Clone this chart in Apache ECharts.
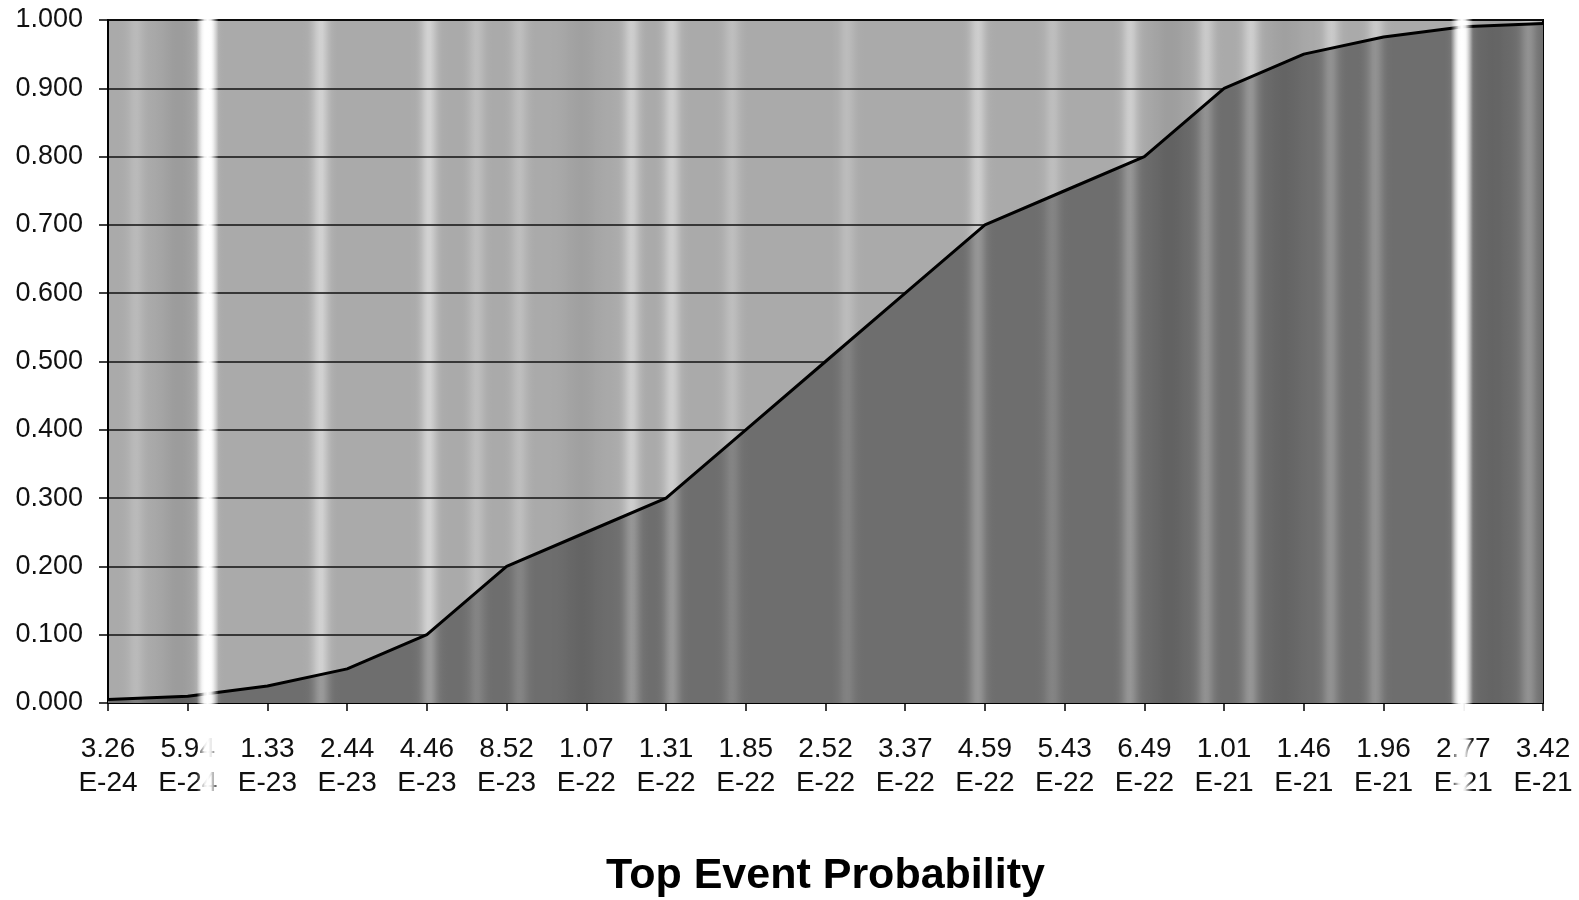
<!DOCTYPE html>
<html>
<head>
<meta charset="utf-8">
<script src="https://cdn.jsdelivr.net/npm/echarts@6/dist/echarts.min.js"></script>
<style>
html,body{margin:0;padding:0;background:#fff;}
#chart{width:1579px;height:900px;}
</style>
</head>
<body>
<div id="chart"></div>
<script>
// ---- data ----
var categories = ['3.26E-24','5.94E-24','1.33E-23','2.44E-23','4.46E-23','8.52E-23','1.07E-22','1.31E-22','1.85E-22','2.52E-22','3.37E-22','4.59E-22','5.43E-22','6.49E-22','1.01E-21','1.46E-21','1.96E-21','2.77E-21','3.42E-21'];
var cumulative = [0.005,0.010,0.025,0.050,0.100,0.200,0.250,0.300,0.400,0.500,0.600,0.700,0.750,0.800,0.900,0.950,0.975,0.990,0.995];
var yTicks = [0,0.1,0.2,0.3,0.4,0.5,0.6,0.7,0.8,0.9,1.0];

// ---- scan-like texture (decoration only) ----
var GRID_L = 108, GRID_R = 36, GRID_W = 1579 - GRID_L - GRID_R;
var whiteStripes = [0.0695, 0.9435];
var lightStripes = [[0.1486,1],[0.224,1],[0.257,0.5],[0.287,0.5],[0.365,0.9],[0.393,0.9],[0.435,0.5],[0.515,0.45],[0.606,0.9],[0.658,0.5],[0.712,0.9],[0.765,0.8],[0.796,0.9],[0.852,0.8],[0.883,0.8],[0.99,0.8],[0.02,0.4]];
var darkBands = [[0.05,0.6],[0.33,0.4],[0.74,0.5],[0.82,0.4],[0.965,0.4]];
function texture(base, wAmp, lAmp, dAmp){
  var stops = [];
  var n = 480;
  for (var i = 0; i <= n; i++){
    var f = i / n, px = f * GRID_W, v = base;
    whiteStripes.forEach(function(c){ var d = (px - c*GRID_W)/7; v += wAmp*Math.exp(-d*d); });
    lightStripes.forEach(function(s){ var d = (px - s[0]*GRID_W)/8; v += lAmp*s[1]*Math.exp(-d*d); });
    darkBands.forEach(function(s){ var d = (px - s[0]*GRID_W)/18; v -= dAmp*s[1]*Math.exp(-d*d); });
    v = Math.max(0, Math.min(255, Math.round(v)));
    stops.push({offset: f, color: 'rgb(' + v + ',' + v + ',' + v + ')'});
  }
  return new echarts.graphic.LinearGradient(0, 0, 1, 0, stops);
}
function artifact(cx){
  return {
    type: 'rect', z: 100, silent: true,
    shape: {x: cx - 11, y: 0, width: 22, height: 900},
    style: {fill: new echarts.graphic.LinearGradient(0,0,1,0,[
      {offset:0, color:'rgba(255,255,255,0)'},
      {offset:0.35, color:'rgba(255,255,255,0.9)'},
      {offset:0.5, color:'rgba(255,255,255,1)'},
      {offset:0.65, color:'rgba(255,255,255,0.9)'},
      {offset:1, color:'rgba(255,255,255,0)'}])}
  };
}

var chart = echarts.init(document.getElementById('chart'), null, {renderer: 'canvas'});
var FONT = '"Liberation Sans", Arial, Helvetica, sans-serif';
chart.setOption({
  animation: false,
  backgroundColor: '#fff',
  grid: {
    left: GRID_L, right: GRID_R, top: 20, bottom: 197,
    outerBoundsMode: 'none', containLabel: false,
    show: true, borderColor: '#000', borderWidth: 2,
    backgroundColor: texture(170, 90, 40, 24)
  },
  xAxis: {
    type: 'category',
    data: categories,
    boundaryGap: false,
    axisLine: {show: true, lineStyle: {color: '#000', width: 2}},
    axisTick: {show: true, inside: false, length: 8, interval: 0, lineStyle: {color: '#000', width: 1.5}},
    axisLabel: {
      interval: 0, margin: 29, fontSize: 28, lineHeight: 34, color: '#111', fontFamily: FONT,
      formatter: function(v){ var i = v.indexOf('E'); return v.slice(0, i) + '\n' + v.slice(i); }
    },
    splitLine: {show: false},
    name: 'Top Event Probability',
    nameLocation: 'middle',
    nameGap: 152,
    nameTextStyle: {fontSize: 43, fontWeight: 'bold', color: '#000', fontFamily: FONT}
  },
  yAxis: {
    type: 'value',
    min: yTicks[0], max: yTicks[yTicks.length - 1], interval: yTicks[1] - yTicks[0],
    axisLine: {show: true, lineStyle: {color: '#000', width: 2}},
    axisTick: {show: true, inside: false, length: 9, lineStyle: {color: '#000', width: 1.5}},
    axisLabel: {
      margin: 25, fontSize: 27, color: '#111', fontFamily: FONT,
      formatter: function(v){ return v.toFixed(3); }
    },
    splitLine: {show: true, lineStyle: {color: '#111', width: 1.6}}
  },
  series: [{
    type: 'line',
    data: cumulative,
    symbol: 'none',
    smooth: false,
    lineStyle: {color: '#000', width: 3},
    areaStyle: {origin: 'start', opacity: 1, color: texture(110, 130, 45, 24)},
    z: 3
  }],
  graphic: whiteStripes.map(function(c){ return artifact(GRID_L + c * GRID_W); })
});
</script>
</body>
</html>
